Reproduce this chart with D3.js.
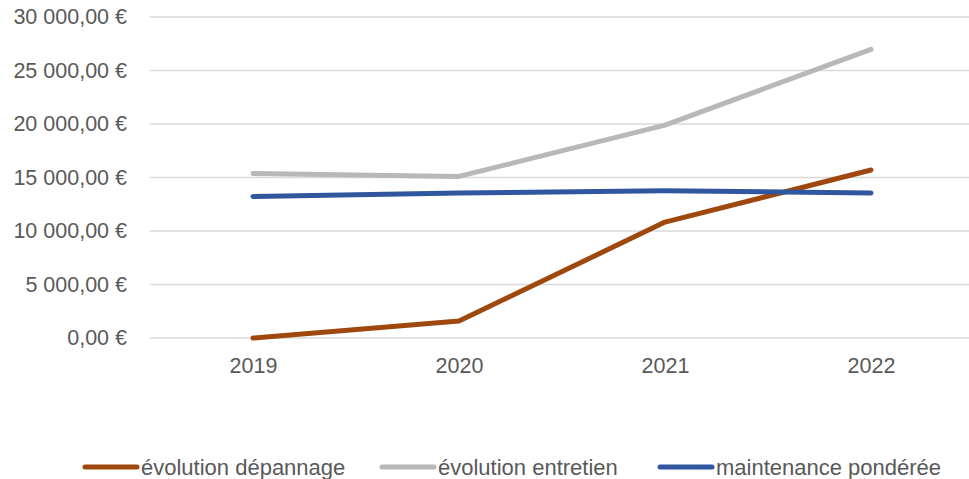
<!DOCTYPE html>
<meta charset="utf-8">
<style>
  body { margin: 0; background: #fff; }
  text { font-family: "Liberation Sans", Arial, sans-serif; fill: #595959; }
  .axis path, .axis line { display: none; }
  .grid line { stroke: #d9d9d9; stroke-width: 1.5; }
</style>
<body>
<script src="https://d3js.org/d3.v7.min.js"></script>
<script>
var years = ["2019", "2020", "2021", "2022"];
var depannage = [0, 1590, 10830, 15700];
var entretien = [15380, 15100, 19900, 26970];
var maintenance = [13230, 13550, 13760, 13550];
var yTicks = [0, 5000, 10000, 15000, 20000, 25000, 30000];

var series = [
  {name: "évolution dépannage", values: depannage, color: "#9e480e"},
  {name: "évolution entretien", values: entretien, color: "#b8b8b8"},
  {name: "maintenance pondérée", values: maintenance, color: "#2f569f"}
];

var width = 969, height = 479;

var svg = d3.select("body").append("svg")
    .attr("width", width)
    .attr("height", height);

var x = d3.scalePoint()
    .domain(years)
    .range([150, 974])
    .padding(0.5);

var y = d3.scaleLinear()
    .domain([0, 30000])
    .range([338, 17]);

// gridlines
svg.append("g")
    .attr("class", "grid")
  .selectAll("line")
    .data(yTicks)
  .enter().append("line")
    .attr("x1", 150)
    .attr("x2", 969)
    .attr("y1", function(d) { return y(d); })
    .attr("y2", function(d) { return y(d); });

var fmt = function(d) {
  var s = d3.format(",.2f")(d).replace(/,/g, " ").replace(".", ",");
  return s + " €";
};

// y axis labels
svg.append("g")
    .attr("class", "axis")
    .attr("transform", "translate(150,0)")
    .call(d3.axisLeft(y).tickValues(yTicks).tickFormat(fmt).tickSize(0).tickPadding(23))
  .selectAll("text")
    .style("font-size", "21.5px")
    .attr("fill", "#595959");

// x axis labels
svg.append("g")
    .attr("class", "axis")
    .attr("transform", "translate(0,338)")
    .call(d3.axisBottom(x).tickSize(0).tickPadding(20))
  .selectAll("text")
    .style("font-size", "21.5px")
    .attr("fill", "#595959");

var line = d3.line()
    .x(function(d, i) { return x(years[i]); })
    .y(function(d) { return y(d); });

svg.selectAll(".series")
    .data(series)
  .enter().append("path")
    .attr("class", "series")
    .attr("d", function(d) { return line(d.values); })
    .attr("fill", "none")
    .attr("stroke", function(d) { return d.color; })
    .attr("stroke-width", 5)
    .attr("stroke-linecap", "round")
    .attr("stroke-linejoin", "round");

// legend
var legendX = [85, 382, 660];
var legend = svg.selectAll(".legend")
    .data(series)
  .enter().append("g")
    .attr("class", "legend")
    .attr("transform", function(d, i) { return "translate(" + legendX[i] + ",467)"; });

legend.append("line")
    .attr("x1", 0)
    .attr("x2", 52)
    .attr("stroke", function(d) { return d.color; })
    .attr("stroke-width", 5)
    .attr("stroke-linecap", "round");

legend.append("text")
    .attr("x", 56)
    .attr("dy", "0.35em")
    .style("font-size", "22px")
    .text(function(d) { return d.name; });
</script>
</body>
